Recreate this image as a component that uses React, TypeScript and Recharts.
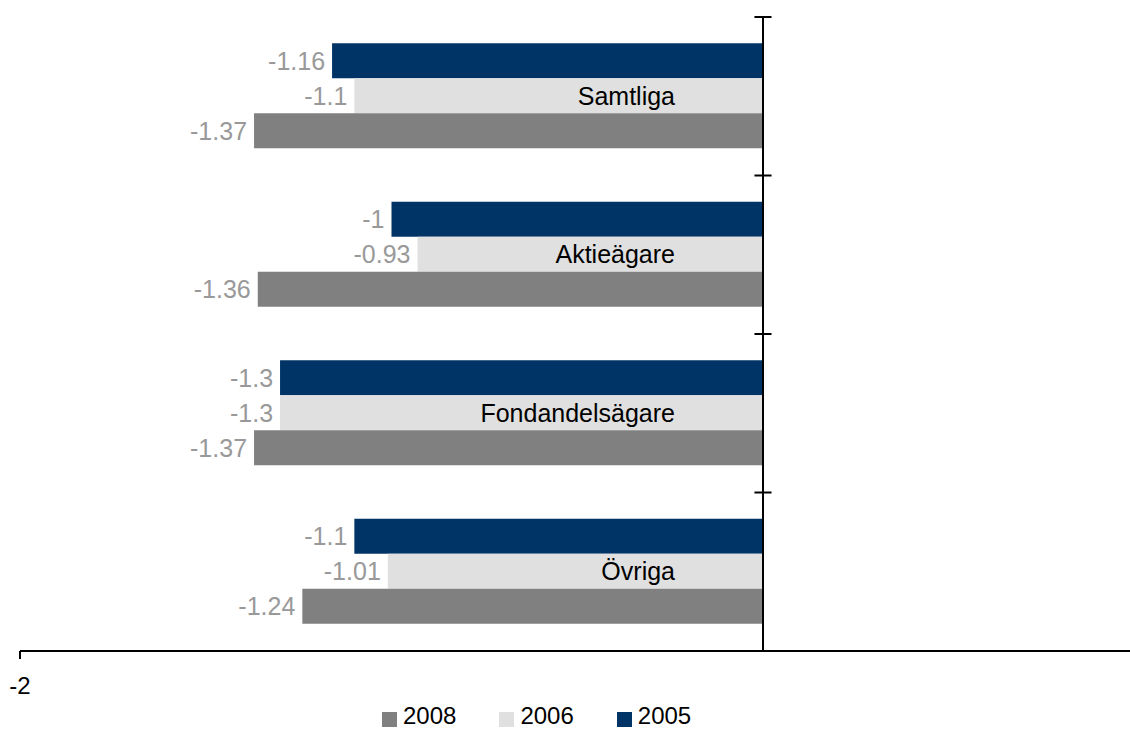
import React from 'react';
import { BarChart, Bar, XAxis, YAxis, ReferenceLine, LabelList } from 'recharts';

const categories = ['Samtliga', 'Aktieägare', 'Fondandelsägare', 'Övriga'];
const values2005 = [-1.16, -1, -1.3, -1.1];
const values2006 = [-1.1, -0.93, -1.3, -1.01];
const values2008 = [-1.37, -1.36, -1.37, -1.24];
const xTicks = [-2];
const legendNames = ['2008', '2006', '2005'];

const COLORS: Record<string, string> = {
  '2005': '#003366',
  '2006': '#E0E0E0',
  '2008': '#808080',
};

const FONT = '"Liberation Sans", Arial, sans-serif';

const data = categories.map((name, i) => ({
  name,
  y2005: values2005[i],
  y2006: values2006[i],
  y2008: values2008[i],
}));

const ValueLabel = (props: any) => {
  const { x, y, width, height, value } = props;
  const left = Math.min(Number(x), Number(x) + Number(width));
  return (
    <text
      x={left - 7}
      y={Number(y) + Number(height) / 2}
      textAnchor="end"
      dominantBaseline="central"
      fill="#999999"
      fontSize={25}
      fontFamily={FONT}
    >
      {String(value)}
    </text>
  );
};

const CategoryLabel = (props: any) => {
  const { x, y, width, height, value } = props;
  const zero = Math.max(Number(x), Number(x) + Number(width));
  return (
    <text
      x={zero - 88}
      y={Number(y) + Number(height) / 2}
      textAnchor="end"
      dominantBaseline="central"
      fill="#000000"
      fontSize={25}
      fontFamily={FONT}
    >
      {String(value)}
    </text>
  );
};

export default function App() {
  return (
    <div
      style={{
        position: 'absolute',
        left: 0,
        top: 0,
        width: 1130,
        height: 729,
        overflow: 'hidden',
        background: '#fff',
        fontFamily: FONT,
      }}
    >
      <BarChart
        width={1136}
        height={729}
        data={data}
        layout="vertical"
        margin={{ top: 17, right: 1.5, bottom: 48, left: 20 }}
        barCategoryGap="16.6%"
        barGap={0}
      >
        <XAxis
          type="number"
          domain={[-2, 1]}
          ticks={xTicks}
          allowDataOverflow
          axisLine={{ stroke: '#000', strokeWidth: 2 }}
          tickLine={{ stroke: '#000', strokeWidth: 2 }}
          tickSize={8}
          tickMargin={18}
          tick={{ fill: '#000', fontSize: 24, fontFamily: FONT }}
        />
        <YAxis type="category" dataKey="name" hide />
        <Bar dataKey="y2005" fill={COLORS['2005']} isAnimationActive={false}>
          <LabelList dataKey="y2005" content={ValueLabel} />
        </Bar>
        <Bar dataKey="y2006" fill={COLORS['2006']} isAnimationActive={false}>
          <LabelList dataKey="y2006" content={ValueLabel} />
          <LabelList dataKey="name" content={CategoryLabel} />
        </Bar>
        <Bar dataKey="y2008" fill={COLORS['2008']} isAnimationActive={false}>
          <LabelList dataKey="y2008" content={ValueLabel} />
        </Bar>
        <ReferenceLine x={0} stroke="#000" strokeWidth={2} />
        {categories.map((c) => (
          <ReferenceLine
            key={c}
            position="start"
            segment={[
              { x: -0.023, y: c },
              { x: 0.023, y: c },
            ]}
            stroke="#000"
            strokeWidth={2}
          />
        ))}
      </BarChart>
      <div
        style={{
          position: 'absolute',
          left: 382,
          top: 703,
          display: 'flex',
          alignItems: 'center',
          fontSize: 24,
          fontFamily: FONT,
          color: '#000',
          lineHeight: '26px',
        }}
      >
        {legendNames.map((n) => (
          <div key={n} style={{ display: 'flex', alignItems: 'flex-end', marginRight: 43 }}>
            <div
              style={{
                width: 15,
                height: 15,
                background: COLORS[n],
                marginRight: 6,
                marginBottom: 2,
              }}
            />
            <span>{n}</span>
          </div>
        ))}
      </div>
    </div>
  );
}
